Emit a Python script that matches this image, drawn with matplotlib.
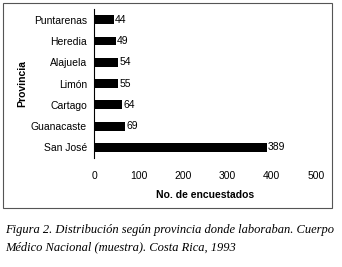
import matplotlib.pyplot as plt
from matplotlib.patches import Rectangle

# datos
provincias = ["San José", "Guanacaste", "Cartago", "Limón", "Alajuela", "Heredia", "Puntarenas"]
encuestados = [389, 69, 64, 55, 54, 49, 44]
ticks_x = [0, 100, 200, 300, 400, 500]

fig = plt.figure(figsize=(3.42, 2.67), dpi=100)
ax = fig.add_axes([0.275, 0.408, 0.649, 0.558])

barras = ax.barh(provincias, encuestados, height=0.42, color="black")
for b, v in zip(barras, encuestados):
    ax.text(b.get_width() + 3, b.get_y() + b.get_height() / 2, str(v),
            va="center", ha="left", fontsize=7.5, family="Liberation Sans")

ax.set_xlim(0, 500)
ax.set_ylim(-0.5, 6.5)
ax.set_xticks(ticks_x)
ax.tick_params(length=0, labelsize=7.5)
ax.tick_params(axis="x", pad=9)
ax.tick_params(axis="y", pad=5)
for t in ax.get_xticklabels() + ax.get_yticklabels():
    t.set_family("Liberation Sans")
for s in ["top", "right", "bottom"]:
    ax.spines[s].set_visible(False)
ax.spines["left"].set_linewidth(0.8)

ax.set_xlabel("No. de encuestados", fontsize=7.5, fontweight="bold",
              family="Liberation Sans", labelpad=7)
ax.set_ylabel("Provincia", fontsize=7.5, fontweight="bold",
              family="Liberation Sans", labelpad=3)

# marco exterior
fig.patches.append(Rectangle((3 / 342, 1 - 208 / 267), 329 / 342, 205 / 267,
                             transform=fig.transFigure, fill=False,
                             edgecolor="#555555", linewidth=0.8))

fig.text(5 / 342, 1 - 230 / 267,
         "Figura 2. Distribución según provincia donde laboraban. Cuerpo",
         fontsize=9, style="italic", family="Liberation Serif", va="center")
fig.text(5 / 342, 1 - 247 / 267,
         "Médico Nacional (muestra). Costa Rica, 1993",
         fontsize=9, style="italic", family="Liberation Serif", va="center")

fig.savefig("out.png", dpi=100)
